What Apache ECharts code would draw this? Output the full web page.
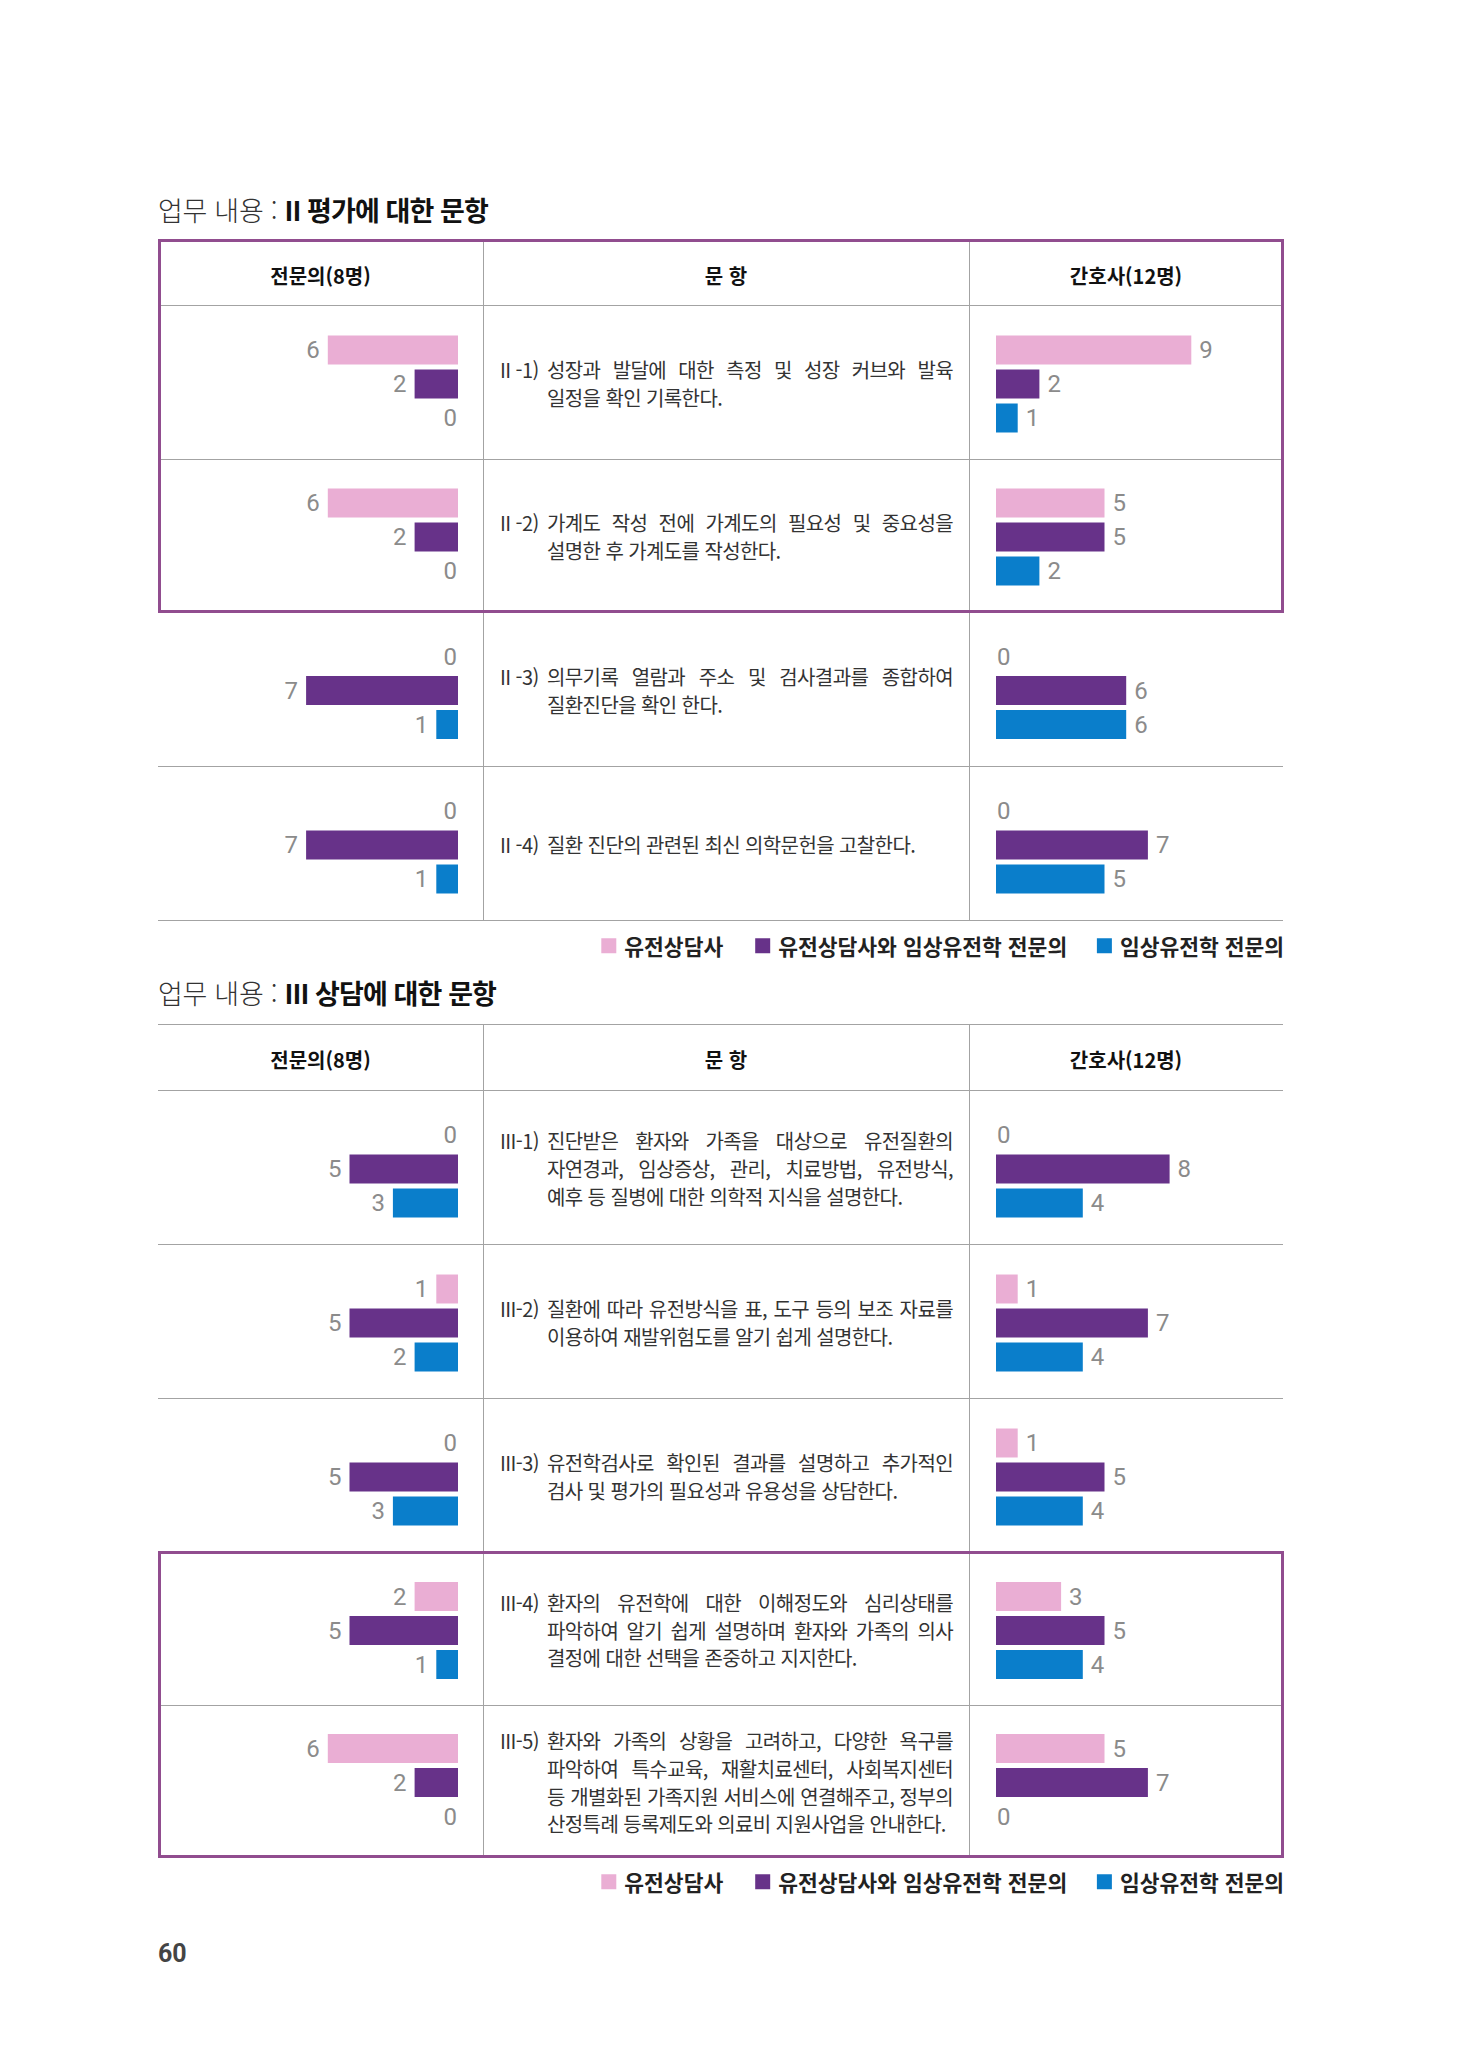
<!DOCTYPE html>
<html lang="ko">
<head>
<meta charset="utf-8">
<title>업무 내용</title>
<script src="https://cdn.jsdelivr.net/npm/echarts@6/dist/echarts.min.js"></script>
<style>
html, body { margin: 0; padding: 0; background: #fff; }
#page { position: relative; width: 1480px; height: 2047px; overflow: hidden;
        font-family: 'Noto Sans CJK KR', 'Noto Sans', sans-serif; }
#chart { position: absolute; left: 0; top: 0; width: 1480px; height: 2047px; }
#overlay { position: absolute; left: 0; top: 0; width: 1480px; height: 2047px; pointer-events: none; }
.abs { position: absolute; white-space: nowrap; }
.hline { position: absolute; height: 1px; background: #a3a3a3; }
.vline { position: absolute; width: 1px; background: #a3a3a3; }
.box { position: absolute; border: 3px solid #914d8f; box-sizing: border-box; }
.title { font-size: 27px; font-weight: 300; color: #333; letter-spacing: -0.3px; }
.title b { font-weight: 700; color: #111; letter-spacing: -0.9px; }
.head { font-size: 20px; font-weight: 700; color: #111; text-align: center; }
.q { font-size: 20px; font-weight: 400; color: #333; letter-spacing: -0.6px; }
.q.just { text-align: justify; text-align-last: justify; }
.pageno { font-size: 25px; font-weight: 700; color: #444; font-family: Roboto, sans-serif; }
</style>
</head>
<body>
<div id="page">
  <div id="chart"></div>
  <div id="overlay"></div>
</div>
<script>
// 응답 그룹
var groups = ['유전상담사', '유전상담사와 임상유전학 전문의', '임상유전학 전문의'];
var groupColors = ['#eaaed4', '#673289', '#0a7ecb'];
var headers = ['전문의(8명)', '문 항', '간호사(12명)'];

// II 평가에 대한 문항
var evalNo = ['II -1)', 'II -2)', 'II -3)', 'II -4)'];
var evalText = [
    ['성장과 발달에 대한 측정 및 성장 커브와 발육', '일정을 확인 기록한다.'],
    ['가계도 작성 전에 가계도의 필요성 및 중요성을', '설명한 후 가계도를 작성한다.'],
    ['의무기록 열람과 주소 및 검사결과를 종합하여', '질환진단을 확인 한다.'],
    ['질환 진단의 관련된 최신 의학문헌을 고찰한다.']
];
var evalDoctor = [[6, 2, 0], [6, 2, 0], [0, 7, 1], [0, 7, 1]];
var evalNurse = [[9, 2, 1], [5, 5, 2], [0, 6, 6], [0, 7, 5]];

// III 상담에 대한 문항
var counselNo = ['III-1)', 'III-2)', 'III-3)', 'III-4)', 'III-5)'];
var counselText = [
    ['진단받은 환자와 가족을 대상으로 유전질환의', '자연경과, 임상증상, 관리, 치료방법, 유전방식,', '예후 등 질병에 대한 의학적 지식을 설명한다.'],
    ['질환에 따라 유전방식을 표, 도구 등의 보조 자료를', '이용하여 재발위험도를 알기 쉽게 설명한다.'],
    ['유전학검사로 확인된 결과를 설명하고 추가적인', '검사 및 평가의 필요성과 유용성을 상담한다.'],
    ['환자의 유전학에 대한 이해정도와 심리상태를', '파악하여 알기 쉽게 설명하며 환자와 가족의 의사', '결정에 대한 선택을 존중하고 지지한다.'],
    ['환자와 가족의 상황을 고려하고, 다양한 욕구를', '파악하여 특수교육, 재활치료센터, 사회복지센터', '등 개별화된 가족지원 서비스에 연결해주고, 정부의', '산정특례 등록제도와 의료비 지원사업을 안내한다.']
];
var counselDoctor = [[0, 5, 3], [1, 5, 2], [0, 5, 3], [2, 5, 1], [6, 2, 0]];
var counselNurse = [[0, 8, 4], [1, 7, 4], [1, 5, 4], [3, 5, 4], [5, 7, 0]];

// layout
var X0 = 158, X1 = 1283, COL1 = 483, COL2 = 969;
var BAR_END_L = 458, BAR_START_R = 996, SCALE_W = 217, SCALE_MAX = 10;
var NO_X = 500, TEXT_X = 547, TEXT_R = 953, LINE_H = 27.8;

var sections = [
    { bold: 'II 평가에 대한 문항', titleY: 210, head: [240, 305],
      rows: [305, 459, 611, 766, 920], box: [240, 611], legendY: 935,
      no: evalNo, text: evalText, doctor: evalDoctor, nurse: evalNurse },
    { bold: 'III 상담에 대한 문항', titleY: 993, head: [1024, 1090],
      rows: [1090, 1244, 1398, 1552, 1705, 1856], box: [1552, 1856], legendY: 1871,
      no: counselNo, text: counselText, doctor: counselDoctor, nurse: counselNurse }
];

var overlay = document.getElementById('overlay');
function el(cls, css, html) {
    var d = document.createElement('div');
    d.className = cls;
    Object.keys(css).forEach(function (k) { d.style[k] = typeof css[k] === 'number' ? css[k] + 'px' : css[k]; });
    if (html != null) d.innerHTML = html;
    overlay.appendChild(d);
    return d;
}

var grids = [], xAxes = [], yAxes = [], series = [];
function addCell(values, left, top, toLeft) {
    var gi = grids.length;
    grids.push({ left: left, top: top, width: SCALE_W, height: 102 });
    xAxes.push({ gridIndex: gi, type: 'value', min: 0, max: SCALE_MAX, inverse: toLeft, show: false });
    yAxes.push({ gridIndex: gi, type: 'category', data: groups, inverse: true, show: false });
    groups.forEach(function (name, k) {
        series.push({
            type: 'bar', name: name, xAxisIndex: gi, yAxisIndex: gi,
            barWidth: 29, barGap: '-100%', silent: true,
            itemStyle: { color: groupColors[k] },
            label: { show: true, position: toLeft ? 'left' : 'right', distance: 8,
                     color: '#8b8b8b', fontSize: 24, fontFamily: 'Roboto' },
            data: groups.map(function (g, j) {
                if (j !== k) return '-';
                var v = values[k];
                return v === 0 ? { value: 0, label: { distance: 1 } } : v;
            })
        });
    });
}

sections.forEach(function (s) {
    // title
    el('abs title', { left: X0, top: s.titleY - 20, height: 40, lineHeight: 40 }, '업무 내용 : <b>' + s.bold + '</b>');
    // table lines
    var ys = [s.head[0]].concat(s.rows);
    ys.forEach(function (y) { el('hline', { left: X0, top: y, width: X1 - X0 }); });
    [COL1, COL2].forEach(function (x) {
        el('vline', { left: x, top: s.head[0], height: s.rows[s.rows.length - 1] - s.head[0] });
    });
    el('box', { left: X0, top: s.box[0] - 1, width: X1 - X0 + 1, height: s.box[1] - s.box[0] + 3 });
    // header
    var hy = (s.head[0] + s.head[1]) / 2 + 3;
    [[X0, COL1], [COL1, COL2], [COL2, X1]].forEach(function (c, i) {
        el('abs head', { left: c[0], width: c[1] - c[0], top: hy - 15, height: 30, lineHeight: 30 }, headers[i]);
    });
    // rows
    for (var r = 0; r < s.rows.length - 1; r++) {
        var cy = (s.rows[r] + s.rows[r + 1]) / 2 + 2;
        var lines = s.text[r];
        var top0 = cy - lines.length * LINE_H / 2;
        el('abs q', { left: NO_X, top: top0, height: LINE_H, lineHeight: LINE_H + 'px' }, s.no[r]);
        lines.forEach(function (t, i) {
            el('abs q' + (i < lines.length - 1 ? ' just' : ''),
               { left: TEXT_X, width: TEXT_R - TEXT_X, top: top0 + i * LINE_H, height: LINE_H, lineHeight: LINE_H + 'px' }, t);
        });
        addCell(s.doctor[r], BAR_END_L - SCALE_W, cy - 51, true);
        addCell(s.nurse[r], BAR_START_R, cy - 51, false);
    }
});

el('abs pageno', { left: X0, top: 1954 - 16, height: 32, lineHeight: 32 }, '60');

var legends = sections.map(function (s) {
    return {
        data: groups, top: s.legendY, right: 1480 - X1, padding: 0,
        itemWidth: 15, itemHeight: 15, itemGap: 32, icon: 'rect', selectedMode: false,
        textStyle: { fontSize: 21.5, fontWeight: 'bold', color: '#222',
                     fontFamily: 'Noto Sans CJK KR', padding: [0, 0, 0, 3] }
    };
});

var chart = echarts.init(document.getElementById('chart'), null, { renderer: 'svg' });
chart.setOption({
    animation: false,
    legend: legends,
    grid: grids,
    xAxis: xAxes,
    yAxis: yAxes,
    series: series
});
</script>
</body>
</html>
